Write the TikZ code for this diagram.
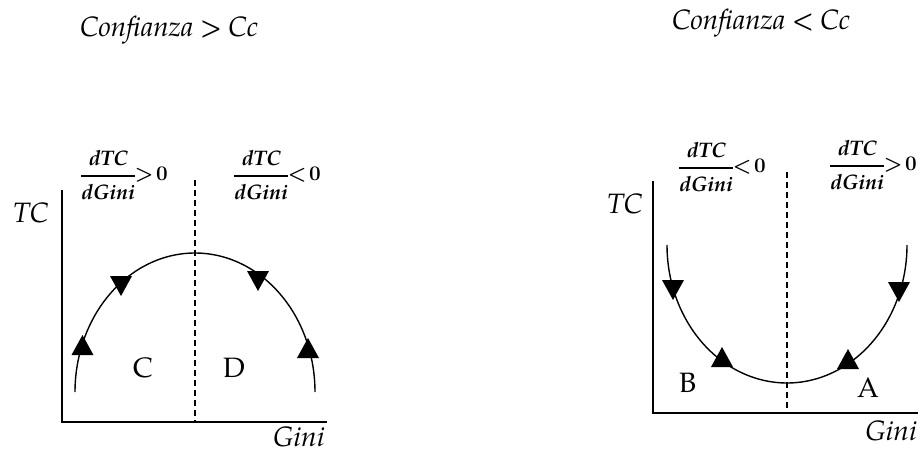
\documentclass[tikz,border=0pt]{standalone}
\usepackage{amsmath}
\usepackage{graphicx}
\usepackage{fontspec}
\setmainfont{texgyrepagella}[Extension=.otf, UprightFont=*-regular, ItalicFont=*-italic, BoldFont=*-bold, BoldItalicFont=*-bolditalic]
\tikzset{
  axisline/.style={line width=1.4pt},
  curveline/.style={line width=1.4pt},
  divline/.style={line width=1.4pt, dash pattern=on 6pt off 4pt},
  lbl/.style={inner sep=0pt, font=\fontsize{28}{30}\selectfont},
  ilbl/.style={inner sep=0pt, font=\fontsize{28}{30}\selectfont\itshape},
  frac/.style={inner sep=0pt, font=\fontsize{21}{23}\selectfont\bfseries\itshape\boldmath},
}
\newcommand\triup[2]{\fill ({#1-11},{#2+20}) -- ({#1+11},{#2+20}) -- (#1,#2) -- cycle;}
\newcommand\tridown[2]{\fill ({#1-11},{#2-20}) -- ({#1+11},{#2-20}) -- (#1,#2) -- cycle;}
\newcommand\dfr{\ensuremath{\genfrac{}{}{2.4pt}{0}{\textit{dTC}}{\textit{dGini}}}}
\newcommand\rel[1]{$\mkern-1mu#1\mkern-3mu0$}
\newcommand\wide[1]{\resizebox{178pt}{\height}{#1}}
\begin{document}
\begin{tikzpicture}[x=1pt,y=-1pt]
\useasboundingbox (0,0) rectangle (918,452);
% ---------- left panel ----------
\coordinate (Ltop) at (62,190);
\coordinate (Lo) at (62,422);
\coordinate (Lend) at (327,422);
\coordinate (Ldt) at (195,180);
\coordinate (Ldb) at (195,422);
\draw[axisline] (Ltop) -- (Lo) -- (Lend);
\draw[divline] (Ldt) -- (Ldb);
\draw[curveline] plot[domain=180:0, samples=90, smooth] ({195+120*cos(\x)},{392-139*sin(\x)});
\triup{82.5}{335}
\tridown{121}{296}
\tridown{258}{291}
\triup{308}{338}
\node[ilbl, anchor=base west] (t1) at (80,37) {\wide{Confianza > Cc}};
\node[ilbl, anchor=base west] (tc1) at (13,222) {TC};
\node[ilbl, anchor=base west] (g1) at (273,446) {Gini};
\node[lbl, anchor=base west] (c) at (133,377) {C};
\node[lbl, anchor=base west] (d) at (223,377) {D};
\node[frac, anchor=west] (f1) at (80,175) {\dfr\rel{>}};
\node[frac, anchor=west] (f2) at (233,175) {\dfr\rel{<}};
% ---------- right panel ----------
\coordinate (Rtop) at (653,181);
\coordinate (Ro) at (653,413);
\coordinate (Rend) at (918,413);
\coordinate (Rdt) at (787,172);
\coordinate (Rdb) at (787,413);
\draw[axisline] (Rtop) -- (Ro) -- (Rend);
\draw[divline] (Rdt) -- (Rdb);
\draw[curveline] plot[domain=180:360, samples=90, smooth] ({787+120*cos(\x)},{245-138*sin(\x)});
\tridown{673}{300}
\triup{722}{347}
\triup{848}{349}
\tridown{899}{302}
\node[ilbl, anchor=base west] (t2) at (672,30) {\wide{Confianza < Cc}};
\node[ilbl, anchor=base west] (tc2) at (607,213) {TC};
\node[ilbl, anchor=base east] (g2) at (917,440) {Gini};
\node[lbl, anchor=base west] (b) at (679,392) {B};
\node[lbl, anchor=base west] (a) at (857,397) {A};
\node[frac, anchor=west] (f3) at (678,167) {\dfr\rel{<}};
\node[frac, anchor=east] (f4) at (917,165) {\dfr\rel{>}};
\end{tikzpicture}
\end{document}
